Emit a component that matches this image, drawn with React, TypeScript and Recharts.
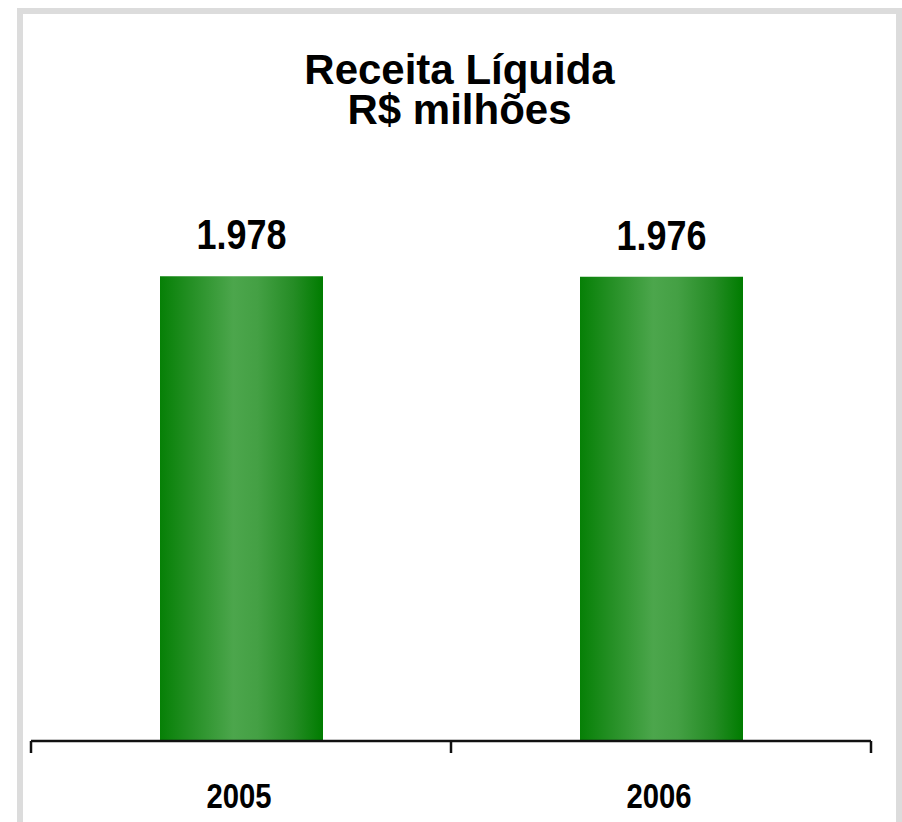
import React from "react";
import { ComposedChart, Bar, XAxis, YAxis, LabelList } from "recharts";

const categories = ["2005", "2006"];
const values = [1978, 1976];
const valueLabels = ["1.978", "1.976"];
const titleLines = ["Receita Líquida", "R$ milhões"];

const data = categories.map((c, i) => ({ year: c, value: values[i], label: valueLabels[i] }));

const SANS = "'Liberation Sans', Arial, sans-serif";
const Y_MAX = 2400;
const TICK_SIZE = 6;
const TICK_MARGIN = 2;

const ValueLabel = (props: any) => {
  const { x, y, width, value } = props;
  return (
    <text
      x={x + width / 2}
      y={y - 27}
      textAnchor="middle"
      fontFamily={SANS}
      fontWeight="bold"
      fontSize={43}
      textLength={90}
      lengthAdjust="spacingAndGlyphs"
      fill="#000"
    >
      {value}
    </text>
  );
};

const YearTick = (props: any) => {
  const { x, y, payload, index, visibleTicksCount } = props;
  const axisY = y - TICK_SIZE - TICK_MARGIN;
  const half = payload && payload.offset ? payload.offset : 210;
  const isLast = index === visibleTicksCount - 1;
  return (
    <g>
      <line x1={x - half} x2={x - half} y1={axisY} y2={axisY + 12} stroke="#111" strokeWidth={2.5} />
      {isLast && (
        <line x1={x + half} x2={x + half} y1={axisY} y2={axisY + 12} stroke="#111" strokeWidth={2.5} />
      )}
      <text
        x={x - 2}
        y={axisY + 67}
        textAnchor="middle"
        fontFamily={SANS}
        fontWeight="bold"
        fontSize={35}
        textLength={65}
        lengthAdjust="spacingAndGlyphs"
        fill="#000"
      >
        {payload.value}
      </text>
    </g>
  );
};

export default function App() {
  return (
    <div
      style={{
        position: "absolute",
        left: 0,
        top: 0,
        width: 902,
        height: 822,
        overflow: "hidden",
        background: "#fff",
      }}
    >
      <div
        style={{
          position: "absolute",
          left: 17,
          top: 8,
          width: 885,
          height: 840,
          boxSizing: "border-box",
          border: "6px solid #dcdcdc",
          borderBottom: "none",
        }}
      />
      <div
        style={{
          position: "absolute",
          left: 23,
          top: 50,
          width: 873,
          textAlign: "center",
          fontFamily: SANS,
          fontWeight: "bold",
          fontSize: 42,
          lineHeight: "40px",
          color: "#000",
        }}
      >
        {titleLines.map((t) => (
          <div key={t}>{t}</div>
        ))}
      </div>
      <div style={{ position: "absolute", left: 0, top: 0 }}>
        <ComposedChart
          width={902}
          height={822}
          data={data}
          margin={{ top: 177, right: 31, bottom: 21, left: 31 }}
          barCategoryGap="30.6%"
        >
          <defs>
            <linearGradient id="barGrad" x1="0" y1="0" x2="1" y2="0">
              <stop offset="0%" stopColor="#068006" />
              <stop offset="20%" stopColor="#269026" />
              <stop offset="45%" stopColor="#4ca64c" />
              <stop offset="60%" stopColor="#44a044" />
              <stop offset="82%" stopColor="#258c25" />
              <stop offset="100%" stopColor="#007c00" />
            </linearGradient>
          </defs>
          <XAxis
            dataKey="year"
            height={60}
            axisLine={{ stroke: "#111", strokeWidth: 2.5 }}
            tickLine={false}
            tickSize={TICK_SIZE}
            tickMargin={TICK_MARGIN}
            tick={<YearTick />}
            interval={0}
          />
          <YAxis hide domain={[0, Y_MAX]} />
          <Bar
            dataKey="value"
            fill="url(#barGrad)"
            barSize={163}
            isAnimationActive={false}
          >
            <LabelList dataKey="label" content={<ValueLabel />} />
          </Bar>
        </ComposedChart>
      </div>
    </div>
  );
}
